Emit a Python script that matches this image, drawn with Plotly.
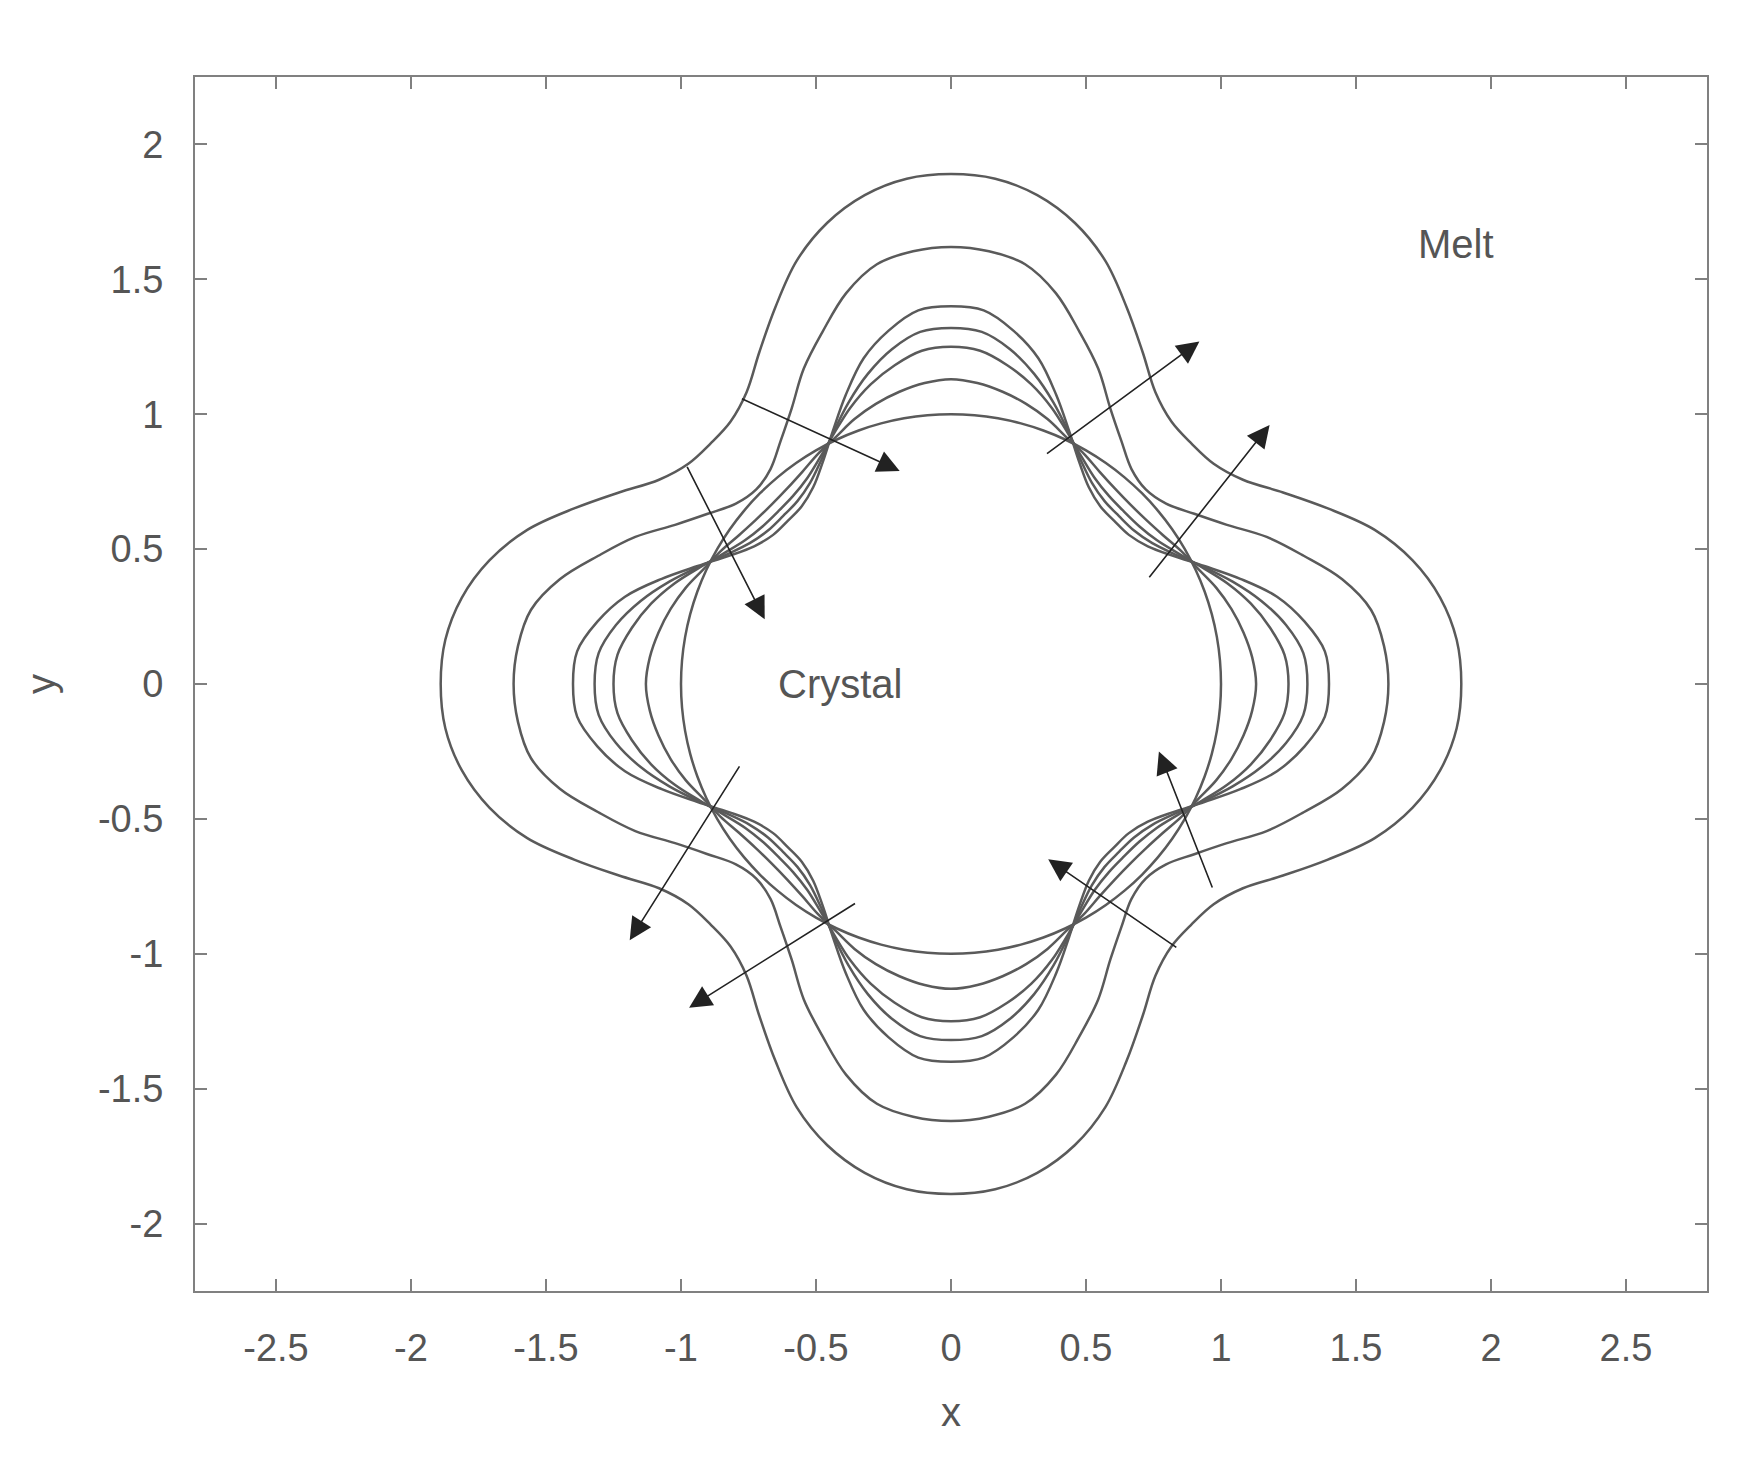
import numpy as np
import plotly.graph_objects as go

# radius, first octant, angles in degrees
angles = [0, 5, 10, 15, 20, 25, 30, 35, 40, 45]
r_crystal = [1.00, 1.00, 1.00, 1.00, 1.00, 1.00, 1.00, 1.00, 1.00, 1.00]
r_front2 = [1.13, 1.12, 1.10, 1.075, 1.045, 1.01, 0.985, 0.96, 0.945, 0.94]
r_front3 = [1.25, 1.24, 1.20, 1.15, 1.09, 1.025, 0.97, 0.93, 0.91, 0.905]
r_front4 = [1.32, 1.31, 1.26, 1.19, 1.11, 1.03, 0.96, 0.91, 0.885, 0.88]
r_front5 = [1.40, 1.39, 1.33, 1.25, 1.14, 1.035, 0.95, 0.89, 0.86, 0.855]
r_front6 = [1.62, 1.61, 1.58, 1.50, 1.39, 1.29, 1.18, 1.10, 1.04, 1.02]
r_front7 = [1.89, 1.88, 1.84, 1.77, 1.67, 1.54, 1.42, 1.32, 1.27, 1.26]
fronts = [r_crystal, r_front2, r_front3, r_front4, r_front5, r_front6, r_front7]

# arrows: tail -> head
arrow_tail_x = [-0.78, -0.98, 0.35, 0.73, -0.78, -0.35, 0.97, 0.84]
arrow_tail_y = [1.06, 0.81, 0.85, 0.39, -0.30, -0.81, -0.76, -0.98]
arrow_head_x = [-0.19, -0.69, 0.92, 1.18, -1.19, -0.97, 0.77, 0.36]
arrow_head_y = [0.79, 0.24, 1.27, 0.96, -0.95, -1.20, -0.25, -0.65]

labels = ["Crystal", "Melt"]
label_x = [-0.41, 1.87]
label_y = [0.0, 1.63]

xticks = [-2.5, -2, -1.5, -1, -0.5, 0, 0.5, 1, 1.5, 2, 2.5]
yticks = [-2, -1.5, -1, -0.5, 0, 0.5, 1, 1.5, 2]


def full_curve(octant):
    # use the 4-fold, mirror symmetry of the fronts to close each curve
    a = list(angles)
    r = list(octant)
    a += [90 - t for t in reversed(angles[:-1])]
    r += list(reversed(octant[:-1]))
    th, rr = [], []
    for q in range(4):
        th += [t + 90 * q for t in a[:-1]]
        rr += r[:-1]
    th.append(360)
    rr.append(r[0])
    th = np.radians(th)
    rr = np.array(rr)
    return rr * np.cos(th), rr * np.sin(th)


font = "Liberation Sans, Arial, sans-serif"
fig = go.Figure()
for r in fronts:
    x, y = full_curve(r)
    fig.add_trace(go.Scatter(x=x, y=y, mode='lines', line=dict(color='#5a5a5a', width=2.5, shape='spline'),
                             hoverinfo='skip', showlegend=False))

for tx, ty, hx, hy in zip(arrow_tail_x, arrow_tail_y, arrow_head_x, arrow_head_y):
    fig.add_annotation(x=hx, y=hy, ax=tx, ay=ty, xref='x', yref='y', axref='x', ayref='y',
                       showarrow=True, arrowhead=2, arrowsize=2.8, arrowwidth=1.6, arrowcolor='#222222', text='')

for t, lx, ly in zip(labels, label_x, label_y):
    fig.add_annotation(x=lx, y=ly, text=t, showarrow=False, font=dict(family=font, size=40, color='#555555'))

axis_common = dict(showgrid=False, zeroline=False, showline=True, linecolor='#808080', linewidth=2,
                   mirror='ticks', ticks='inside', ticklen=12, tickwidth=2, tickcolor='#808080',
                   tickfont=dict(family=font, size=38, color='#555555'))
fig.update_xaxes(range=[-2.8, 2.8], tickvals=xticks, ticktext=[f"{v:g}" for v in xticks],
                 ticklabelstandoff=22,
                 title=dict(text='x', font=dict(family=font, size=40, color='#555555'), standoff=30),
                 **axis_common)
fig.update_yaxes(range=[-2.25, 2.25], tickvals=yticks, ticktext=[f"{v:g}" for v in yticks],
                 ticklabelstandoff=22,
                 title=dict(text='y', font=dict(family=font, size=40, color='#555555'), standoff=30),
                 **axis_common)
fig.update_layout(width=1759, height=1467, plot_bgcolor='white', paper_bgcolor='white',
                  margin=dict(l=187, r=60, t=69, b=184))

fig.write_html("out.html")
